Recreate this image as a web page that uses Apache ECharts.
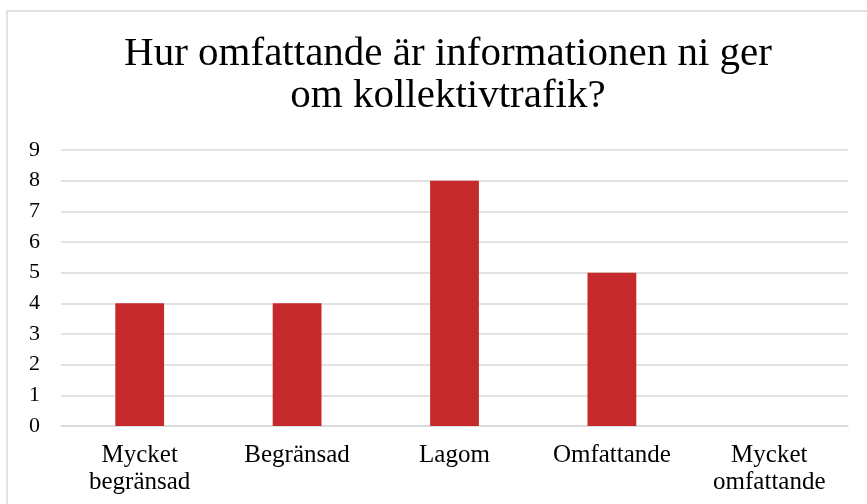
<!DOCTYPE html>
<html>
<head>
<meta charset="utf-8">
<script src="https://cdn.jsdelivr.net/npm/echarts@6/dist/echarts.min.js"></script>
<style>
  html, body { margin: 0; padding: 0; background: #fff; }
  #chart { width: 867px; height: 504px; }
</style>
</head>
<body>
<div id="chart"></div>
<script>
// svarsalternativ och antal svar
var categories = ['Mycket\nbegränsad', 'Begränsad', 'Lagom', 'Omfattande', 'Mycket\nomfattande'];
var answers = [4, 4, 8, 5, 0];
var titleText = 'Hur omfattande är informationen ni ger\nom kollektivtrafik?';

var serif = '"Liberation Serif", "DejaVu Serif", serif';
var chart = echarts.init(document.getElementById('chart'));
chart.setOption({
  animation: false,
  backgroundColor: '#fff',
  graphic: [{
    type: 'rect',
    shape: { x: 7, y: 11, width: 900, height: 520 },
    style: { fill: 'none', stroke: '#d9d9d9', lineWidth: 1.5 },
    silent: true
  }],
  title: {
    text: titleText,
    left: 443,
    top: 28,
    textAlign: 'center',
    textStyle: {
      fontFamily: serif,
      fontWeight: 'normal',
      fontSize: 41,
      lineHeight: 42,
      color: '#000'
    }
  },
  grid: { left: 61, right: 19, top: 150, bottom: 78, containLabel: false },
  xAxis: {
    type: 'category',
    data: categories,
    axisLine: { lineStyle: { color: '#d9d9d9', width: 1.5 } },
    axisTick: { show: false },
    axisLabel: {
      interval: 0,
      margin: 16,
      fontFamily: serif,
      fontSize: 25,
      lineHeight: 27,
      color: '#000'
    }
  },
  yAxis: {
    type: 'value',
    min: 0,
    max: 9,
    interval: 1,
    axisLine: { show: false },
    axisTick: { show: false },
    splitLine: { lineStyle: { color: '#d9d9d9', width: 1.5 } },
    axisLabel: {
      margin: 21,
      fontFamily: serif,
      fontSize: 22,
      color: '#000'
    }
  },
  series: [{
    type: 'bar',
    data: answers,
    barWidth: '31%',
    itemStyle: { color: '#c6292b' }
  }]
});
</script>
</body>
</html>
